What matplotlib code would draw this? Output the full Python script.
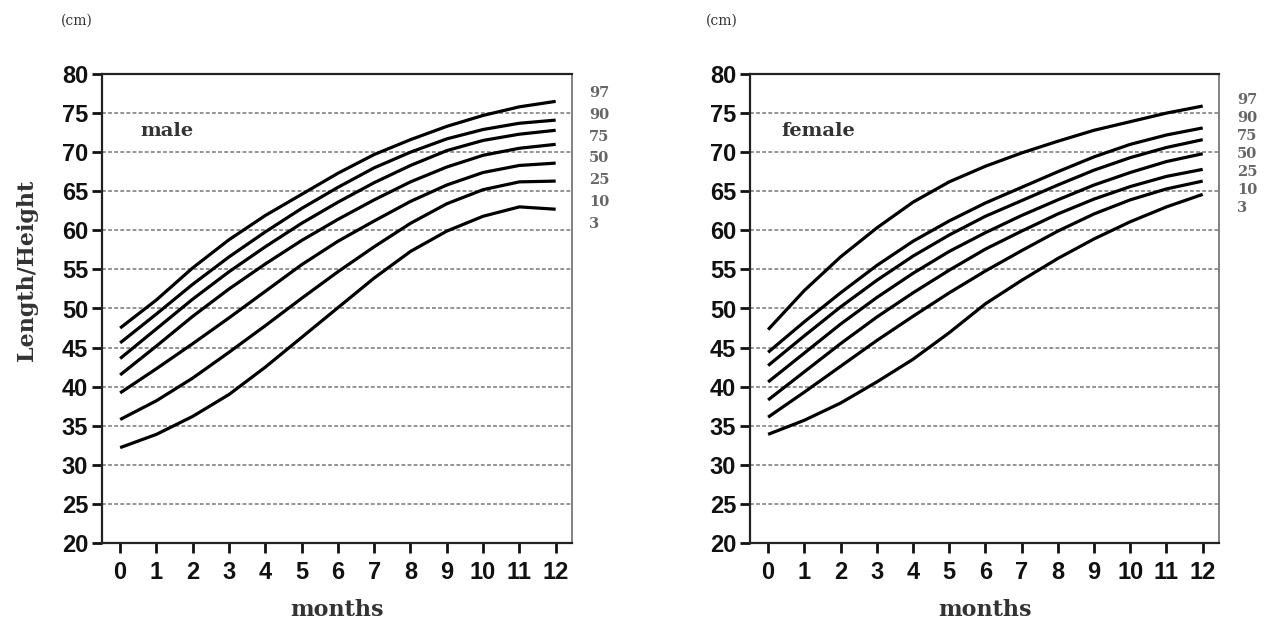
import matplotlib
matplotlib.use('Agg')
import matplotlib.pyplot as plt

# months 0..12
months = list(range(13))
pct_names = ['97', '90', '75', '50', '25', '10', '3']

# male length/height (cm)
male = {
    '97': [47.5, 51.1, 55.2, 58.8, 61.9, 64.6, 67.3, 69.7, 71.6, 73.3, 74.7, 75.8, 76.5],
    '90': [45.6, 49.3, 53.1, 56.6, 59.8, 62.8, 65.5, 68.0, 70.0, 71.7, 72.9, 73.7, 74.1],
    '75': [43.6, 47.4, 51.2, 54.7, 57.9, 60.9, 63.6, 66.1, 68.3, 70.2, 71.5, 72.3, 72.8],
    '50': [41.5, 45.2, 49.0, 52.5, 55.7, 58.7, 61.4, 63.9, 66.2, 68.1, 69.6, 70.5, 71.0],
    '25': [39.2, 42.3, 45.5, 48.8, 52.2, 55.6, 58.6, 61.2, 63.7, 65.8, 67.4, 68.3, 68.6],
    '10': [35.8, 38.2, 41.1, 44.4, 47.8, 51.3, 54.7, 57.9, 60.9, 63.4, 65.2, 66.2, 66.3],
    '3':  [32.2, 33.9, 36.2, 39.0, 42.5, 46.3, 50.1, 53.9, 57.3, 59.9, 61.8, 63.0, 62.7],
}

# female length/height (cm)
female = {
    '97': [47.3, 52.3, 56.6, 60.3, 63.6, 66.2, 68.2, 69.9, 71.4, 72.8, 73.9, 75.0, 75.9],
    '90': [44.4, 48.3, 52.0, 55.5, 58.6, 61.2, 63.5, 65.5, 67.5, 69.4, 71.0, 72.2, 73.1],
    '75': [42.7, 46.5, 50.2, 53.6, 56.7, 59.4, 61.8, 63.8, 65.8, 67.7, 69.3, 70.6, 71.6],
    '50': [40.6, 44.3, 48.0, 51.4, 54.5, 57.3, 59.7, 61.9, 63.9, 65.8, 67.4, 68.8, 69.8],
    '25': [38.3, 41.9, 45.5, 48.9, 52.0, 54.9, 57.6, 59.9, 62.1, 64.0, 65.6, 66.9, 67.8],
    '10': [36.1, 39.3, 42.6, 45.9, 49.0, 52.0, 54.8, 57.4, 59.9, 62.1, 63.9, 65.3, 66.3],
    '3':  [33.9, 35.7, 37.9, 40.6, 43.5, 46.9, 50.6, 53.6, 56.4, 58.9, 61.1, 63.0, 64.6],
}

W, H = 1266, 626
fig = plt.figure(figsize=(W / 100, H / 100), dpi=100)
fig.patch.set_facecolor('white')


def px(x, y):
    return x / W, 1 - y / H


def draw_panel(left_px, width_px, data, sex_label, sex_x, label_x, label_y0, label_step):
    ax = fig.add_axes([left_px / W, 1 - 543 / H, width_px / W, 469 / H])
    for name in pct_names:
        ax.plot(months, data[name], color='black', lw=2.3, solid_capstyle='butt',
                solid_joinstyle='round')
    for g in range(25, 80, 5):
        ax.axhline(g, color='#777777', lw=1.1, ls=(0, (2.5, 1.5)), zorder=0)
    ax.set_xlim(-0.5, 12.45)
    ax.set_ylim(20, 80)
    ax.set_xticks(months)
    ax.set_yticks(range(20, 81, 5))
    ax.tick_params(direction='out', length=7, width=2, labelsize=17, pad=3, colors='#111111')
    ax.tick_params(axis='x', pad=6)
    for lab in ax.get_xticklabels() + ax.get_yticklabels():
        lab.set_fontfamily('Liberation Sans')
        lab.set_fontweight('bold')
    for s in ['left', 'bottom', 'top']:
        ax.spines[s].set_linewidth(1.6)
        ax.spines[s].set_color('#222222')
    ax.spines['right'].set_linewidth(1.3)
    ax.spines['right'].set_color('#777777')
    x, y = px(sex_x, 131)
    fig.text(x, y, sex_label, fontsize=14, fontfamily='DejaVu Serif', fontweight='bold',
             va='center', ha='left', color='#333333')
    for i, name in enumerate(pct_names):
        x, y = px(label_x, label_y0 + i * label_step)
        fig.text(x, y, name, fontsize=10.5, fontfamily='DejaVu Serif', fontweight='bold',
                 color='#666666', ha='left', va='center')
    return ax


draw_panel(102, 470, male, 'male', 140, 589, 93, 21.8)
draw_panel(750, 469, female, 'female', 781, 1237, 100, 18)

for xc in (337, 985):
    x, y = px(xc, 610)
    fig.text(x, y, 'months', fontsize=16, fontfamily='DejaVu Serif', fontweight='bold',
             ha='center', va='center', color='#333333')

x, y = px(27, 270)
fig.text(x, y, 'Length/Height', fontsize=16, fontfamily='DejaVu Serif', fontweight='bold',
         rotation=90, ha='center', va='center', color='#333333')

for xc in (77, 722):
    x, y = px(xc, 21)
    fig.text(x, y, '(cm)', fontsize=10, fontfamily='DejaVu Serif', ha='center', va='center',
             color='#333333')

fig.savefig('out.png', dpi=100)
